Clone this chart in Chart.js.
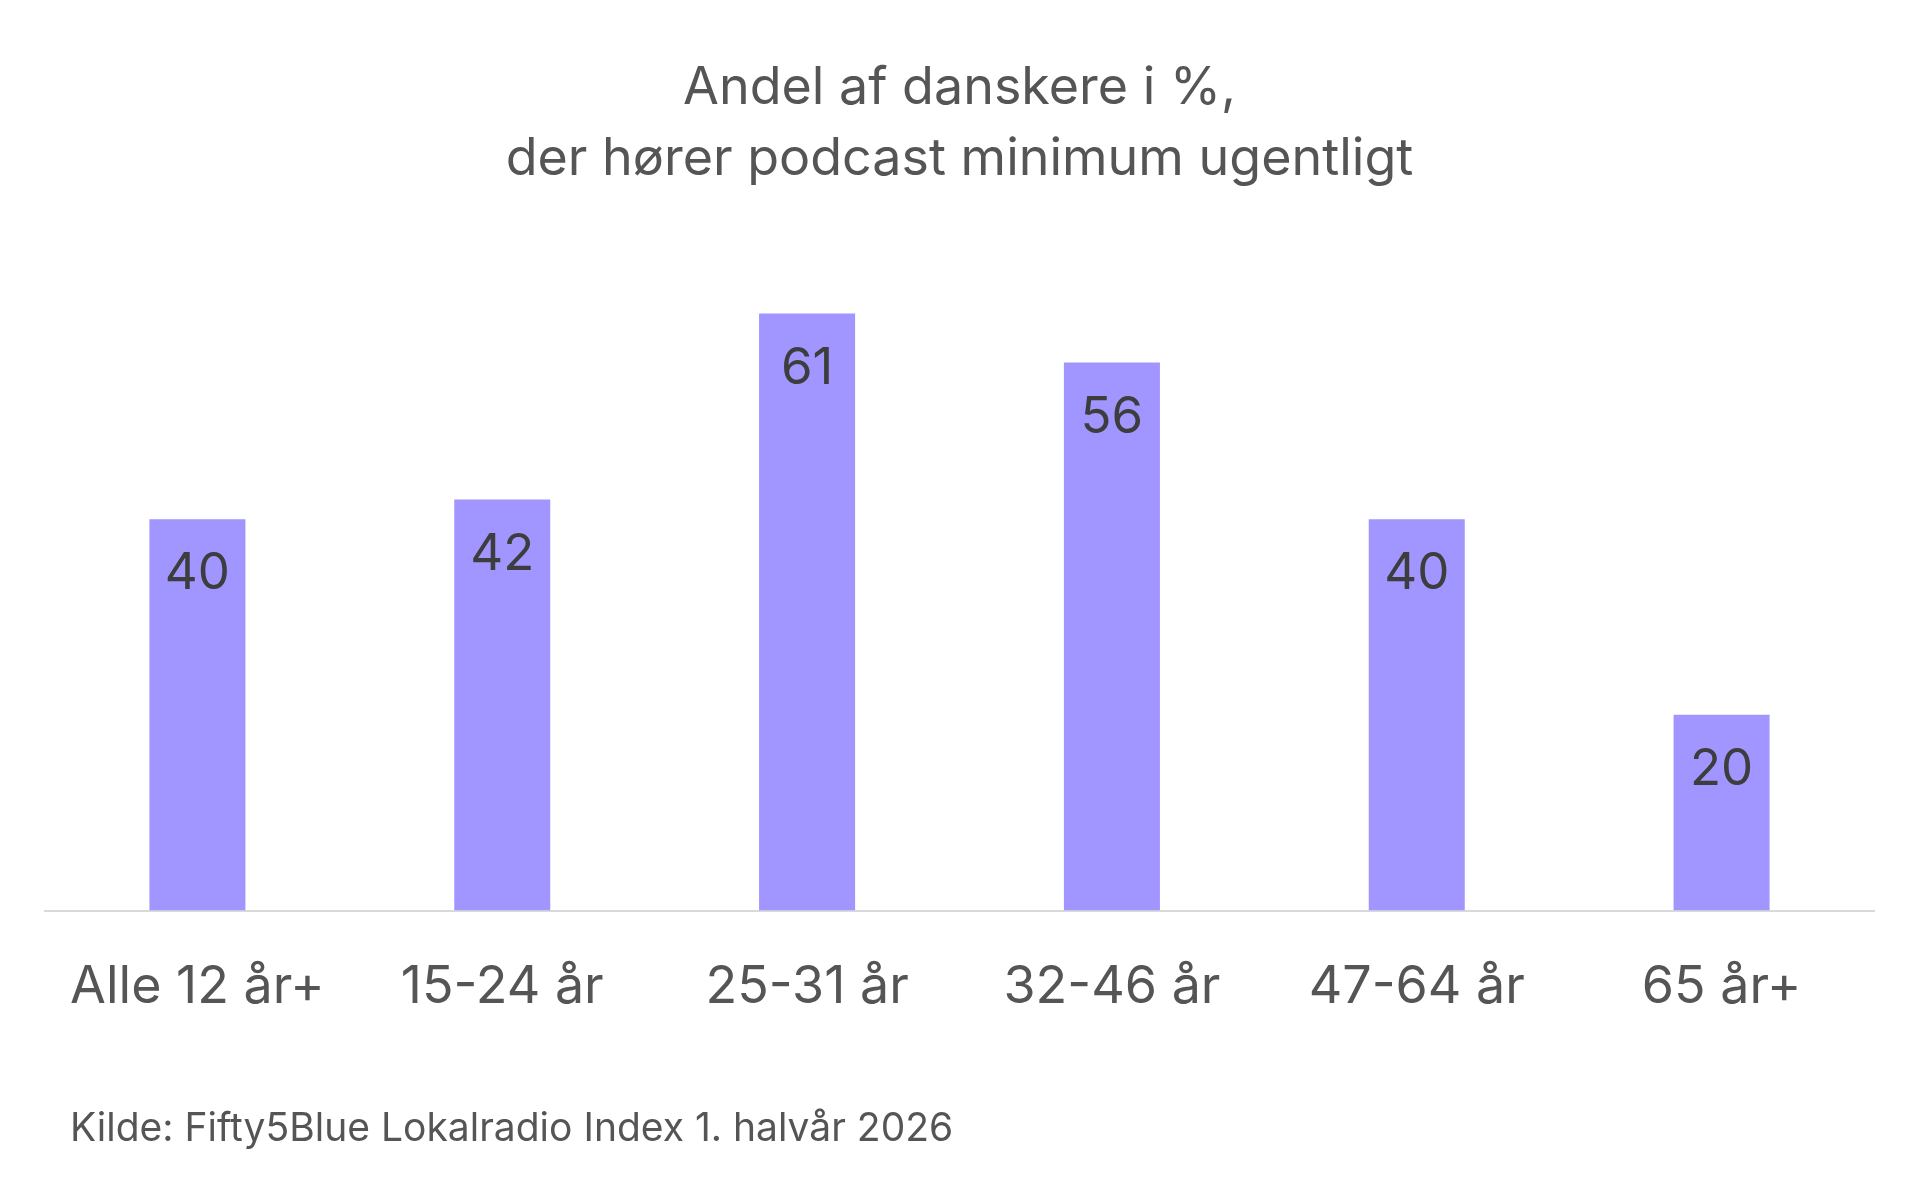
<!DOCTYPE html>
<html>
<head>
<meta charset="utf-8">
<script src="https://cdn.jsdelivr.net/npm/chart.js@4"></script>
<style>
  body { margin: 0; background: #fff; }
</style>
</head>
<body>
<canvas id="podcastChart" width="1920" height="1181"></canvas>
<script>
const kategorier = ['Alle 12 år+', '15-24 år', '25-31 år', '32-46 år', '47-64 år', '65 år+'];
const andele = [40, 42, 61, 56, 40, 20];
const titelLinjer = ['Andel af danskere i %,', 'der hører podcast minimum ugentligt'];
const kilde = 'Kilde: Fifty5Blue Lokalradio Index 1. halvår 2026';

// tal inde i toppen af søjlerne + kildetekst nederst
const etiketter = {
  id: 'etiketter',
  afterDatasetsDraw(chart) {
    const ctx = chart.ctx;
    const meta = chart.getDatasetMeta(0);
    ctx.save();
    ctx.font = '51px Inter, "Open Sans", sans-serif';
    ctx.fillStyle = '#3d3d3d';
    ctx.textAlign = 'center';
    ctx.textBaseline = 'middle';
    meta.data.forEach((bar, i) => {
      ctx.fillText(andele[i], bar.x, bar.y + 55);
    });
    ctx.font = '39px Inter, "Open Sans", sans-serif';
    ctx.fillStyle = '#555';
    ctx.textAlign = 'left';
    ctx.fillText(kilde, 70, 1129);
    ctx.restore();
  }
};

const ctx = document.getElementById('podcastChart').getContext('2d');
new Chart(ctx, {
  type: 'bar',
  data: {
    labels: kategorier,
    datasets: [{
      data: andele,
      backgroundColor: '#a196ff',
      categoryPercentage: 1,
      barPercentage: 0.315
    }]
  },
  options: {
    responsive: false,
    animation: false,
    layout: { padding: { left: 45, right: 46, bottom: 124 } },
    plugins: {
      legend: { display: false },
      tooltip: { enabled: false },
      title: {
        display: true,
        text: titelLinjer,
        color: '#555',
        font: { family: 'Inter, "Open Sans", sans-serif', size: 52, weight: 'normal', lineHeight: 1.38 },
        padding: { top: 52, bottom: 30 }
      }
    },
    scales: {
      x: {
        grid: { display: false },
        border: { display: true, color: '#d9d9d9', width: 2 },
        ticks: {
          color: '#555',
          padding: 38,
          font: { family: 'Inter, "Open Sans", sans-serif', size: 52 }
        }
      },
      y: {
        display: false,
        min: 0,
        max: 70
      }
    }
  },
  plugins: [etiketter]
});
</script>
</body>
</html>
